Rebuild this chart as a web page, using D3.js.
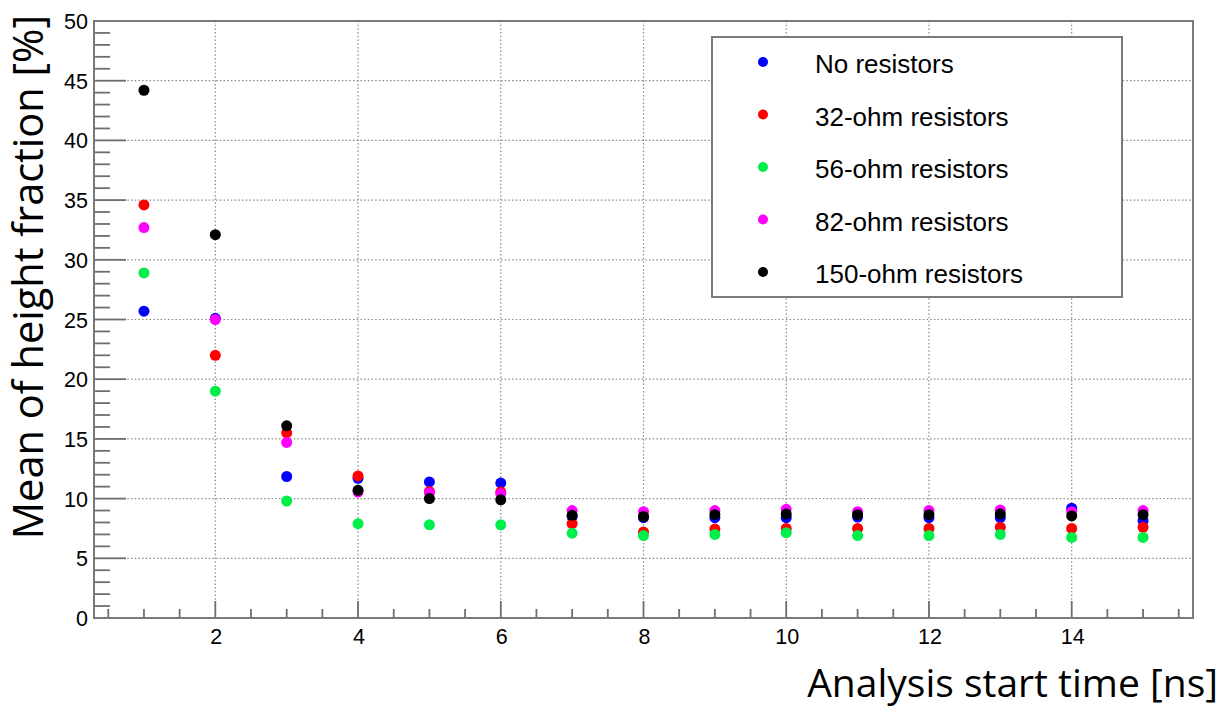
<!doctype html>
<meta charset="utf-8">
<style type="text/css">
  body { margin: 0; background: #fff; }
  .tick-label { font: 21.5px "Liberation Sans", Arial, sans-serif; fill: #000; }
  .legend-label { font: 26px "Liberation Sans", Arial, sans-serif; fill: #000; }
  .axis-title { font-family: "Open Sans", "Noto Sans", sans-serif; fill: #000; }
</style>
<body>
<script src="https://d3js.org/d3.v7.min.js"></script>
<script>

// analysis start time [ns]
let times = [1, 2, 3, 4, 5, 6, 7, 8, 9, 10, 11, 12, 13, 14, 15];

let seriesNames = ["No resistors", "32-ohm resistors", "56-ohm resistors", "82-ohm resistors", "150-ohm resistors"];
let seriesColors = ["#0000ff", "#ff0000", "#00ee4a", "#ff00ff", "#000000"];

// mean of height fraction [%], one array per series
let noResistors = [25.7, 25.1, 11.85, 11.7, 11.4, 11.3, 8.5, 8.4, 8.4, 8.4, 8.45, 8.4, 8.4, 9.2, 8.15];
let ohm32 =       [34.6, 22.0, 15.5, 11.9, 10.6, 10.55, 7.9, 7.2, 7.45, 7.5, 7.5, 7.5, 7.6, 7.5, 7.6];
let ohm56 =       [28.9, 19.0, 9.8, 7.9, 7.8, 7.8, 7.1, 6.9, 7.0, 7.15, 6.9, 6.9, 7.0, 6.75, 6.75];
let ohm82 =       [32.7, 25.0, 14.7, 10.55, 10.5, 10.4, 9.0, 8.9, 9.0, 9.1, 8.9, 9.0, 9.05, 8.9, 9.0];
let ohm150 =      [44.2, 32.1, 16.1, 10.7, 10.0, 9.9, 8.6, 8.5, 8.65, 8.7, 8.65, 8.65, 8.7, 8.55, 8.65];

let allSeries = [noResistors, ohm32, ohm56, ohm82, ohm150];

let xMajorTicks = [2, 4, 6, 8, 10, 12, 14];
let yMajorTicks = [0, 5, 10, 15, 20, 25, 30, 35, 40, 45, 50];

let width = 1227,
    height = 707,
    frame = {left: 94, right: 1193, top: 21, bottom: 618};

let x = d3.scaleLinear().domain([0.3, 15.7]).range([frame.left, frame.right]);
let y = d3.scaleLinear().domain([0, 50]).range([frame.bottom, frame.top]);

let svg = d3.select('body')
    .append('svg')
    .attr('width', width)
    .attr('height', height);

// dotted grid
let grid = svg.append('g')
    .attr('stroke', '#8a8a8a')
    .attr('stroke-width', 1.2)
    .attr('stroke-dasharray', '1.5,2.2');

grid.selectAll('.gx')
    .data(xMajorTicks)
  .enter().append('line')
    .attr('x1', d => x(d)).attr('x2', d => x(d))
    .attr('y1', frame.top).attr('y2', frame.bottom);

grid.selectAll('.gy')
    .data(yMajorTicks.filter(d => d > 0 && d < 50))
  .enter().append('line')
    .attr('y1', d => y(d)).attr('y2', d => y(d))
    .attr('x1', frame.left).attr('x2', frame.right);

// ticks
let xMinor = d3.range(0.5, 15.51, 0.5).filter(d => xMajorTicks.indexOf(d) < 0);
let yMinor = d3.range(0, 50.01, 1).filter(d => d % 5 !== 0);

let ticks = svg.append('g')
    .attr('stroke', '#6e6e6e')
    .attr('stroke-width', 1.8);

ticks.selectAll('.xmaj')
    .data(xMajorTicks)
  .enter().append('line')
    .attr('x1', d => x(d)).attr('x2', d => x(d))
    .attr('y1', frame.bottom).attr('y2', frame.bottom - 17);

ticks.selectAll('.xmin')
    .data(xMinor)
  .enter().append('line')
    .attr('x1', d => x(d)).attr('x2', d => x(d))
    .attr('y1', frame.bottom).attr('y2', frame.bottom - 9);

ticks.selectAll('.ymaj')
    .data(yMajorTicks)
  .enter().append('line')
    .attr('y1', d => y(d)).attr('y2', d => y(d))
    .attr('x1', frame.left).attr('x2', frame.left + 32);

ticks.selectAll('.ymin')
    .data(yMinor)
  .enter().append('line')
    .attr('y1', d => y(d)).attr('y2', d => y(d))
    .attr('x1', frame.left).attr('x2', frame.left + 16);

// frame
svg.append('rect')
    .attr('x', frame.left)
    .attr('y', frame.top)
    .attr('width', frame.right - frame.left)
    .attr('height', frame.bottom - frame.top)
    .attr('fill', 'none')
    .attr('stroke', '#7a7a7a')
    .attr('stroke-width', 2);

// tick labels
svg.selectAll('.xlab')
    .data(xMajorTicks)
  .enter().append('text')
    .attr('class', 'tick-label')
    .attr('x', d => x(d) + 1)
    .attr('y', 644)
    .attr('text-anchor', 'middle')
    .text(d => d);

svg.selectAll('.ylab')
    .data(yMajorTicks)
  .enter().append('text')
    .attr('class', 'tick-label')
    .attr('x', 88)
    .attr('y', d => y(d) + 8)
    .attr('text-anchor', 'end')
    .text(d => d);

// axis titles
svg.append('text')
    .attr('class', 'axis-title')
    .attr('x', 1218)
    .attr('y', 697)
    .attr('text-anchor', 'end')
    .style('font-size', '39px')
    .text('Analysis start time [ns]');

svg.append('text')
    .attr('class', 'axis-title')
    .attr('transform', 'translate(43,15) rotate(-90)')
    .attr('text-anchor', 'end')
    .style('font-size', '41.5px')
    .text('Mean of height fraction [%]');

// points, drawn series by series so black ends on top
allSeries.forEach(function(values, i) {
  svg.append('g')
      .selectAll('circle')
      .data(values)
    .enter().append('circle')
      .attr('cx', (d, j) => x(times[j]))
      .attr('cy', d => y(d))
      .attr('r', 5.5)
      .attr('fill', seriesColors[i]);
});

// legend
let legend = svg.append('g');

legend.append('rect')
    .attr('x', 712)
    .attr('y', 37)
    .attr('width', 410)
    .attr('height', 260)
    .attr('fill', '#fff')
    .attr('stroke', '#7a7a7a')
    .attr('stroke-width', 2);

let rows = legend.selectAll('.row')
    .data(seriesNames)
  .enter().append('g')
    .attr('transform', (d, i) => 'translate(0,' + (62 + i * 52.5) + ')');

rows.append('circle')
    .attr('cx', 763)
    .attr('cy', 0)
    .attr('r', 5)
    .attr('fill', (d, i) => seriesColors[i]);

rows.append('text')
    .attr('class', 'legend-label')
    .attr('x', 815)
    .attr('y', 11)
    .text(d => d);

</script>
